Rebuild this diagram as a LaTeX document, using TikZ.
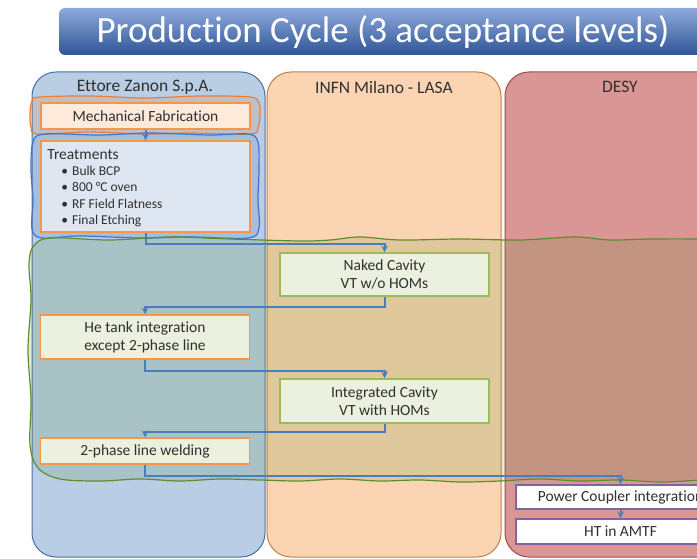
\documentclass[tikz,border=0pt]{standalone}
\usepackage{fontspec}
\setmainfont{Carlito}[Ligatures=NoCommon]
\usetikzlibrary{arrows}

\definecolor{txt}{HTML}{303030}
\definecolor{bantop}{HTML}{8EAADC}
\definecolor{banbot}{HTML}{2F5597}
\definecolor{zanonfill}{HTML}{B9CDE5}
\definecolor{zanonline}{HTML}{4A6FA5}
\definecolor{lasafill}{HTML}{FBD4B4}
\definecolor{lasaline}{HTML}{C47F3E}
\definecolor{desyfill}{HTML}{D99694}
\definecolor{desyline}{HTML}{A5484A}
\definecolor{orangeline}{HTML}{F79646}
\definecolor{orangefill}{HTML}{FDEADA}
\definecolor{treatfill}{HTML}{DEE6F1}
\definecolor{greenline}{HTML}{9BBB59}
\definecolor{greenfill}{HTML}{EBF1DE}
\definecolor{purpleline}{HTML}{8064A2}
\definecolor{connblue}{HTML}{4A7EBB}
\definecolor{waveorange}{HTML}{ED7D31}
\definecolor{waveblue}{HTML}{4472C4}
\definecolor{wavegreen}{HTML}{5B8F2E}

\begin{document}
\begin{tikzpicture}[x=1pt,y=-1pt,>=stealth,
    lane/.style={rounded corners=24pt,line width=1pt},
    lanetitle/.style={font=\fontsize{17.5}{20}\selectfont,text=txt},
    box/.style={draw,line width=1.5pt,minimum width=209pt,inner sep=0pt,align=center,
      font=\fontsize{15.5}{18}\selectfont,text=txt},
    conn/.style={->,line width=2pt,draw=connblue},
    wave/.style={line width=1.2pt,fill opacity=0.17,smooth cycle,tension=0.55}]
  \clip (0,0) rectangle (697,559);
  % タイトル
  \shade[rounded corners=6pt,top color=bantop,bottom color=banbot] (59,8) rectangle (730,55);
  \node[text=white,font=\fontsize{37}{40}\selectfont] (title) at (383,32) {Production Cycle (3 acceptance levels)};

  % レーン
  \draw[lane,fill=zanonfill,draw=zanonline] (32,72) rectangle (265,557);
  \draw[lane,fill=lasafill,draw=lasaline] (267,72) rectangle (501,557);
  \draw[lane,fill=desyfill,draw=desyline] (505,72) rectangle (740,557);
  \node[lanetitle] (zanon) at (145,87) {Ettore Zanon S.p.A.};
  \node[lanetitle] (lasa) at (384,87) {INFN Milano - LASA};
  \node[lanetitle] (desy) at (620,87) {DESY};

  % 受入レベル
  \draw[wave,draw=waveorange,fill=waveorange] plot coordinates {(40,97) (90,96) (145,98) (200,96) (250,97) (259,103) (260,115) (258,128) (250,134) (190,133) (145,134) (90,132) (38,134) (31,127) (30,114) (32,101)};
  \draw[wave,draw=waveblue,fill=waveblue] plot coordinates {(45,134) (100,135) (150,133) (210,135) (248,134) (258,142) (259,170) (258,200) (259,228) (248,238) (190,237) (140,238) (80,236) (42,238) (32,229) (33,200) (31,170) (33,142)};
  \draw[wave,draw=wavegreen,fill=wavegreen] plot coordinates {(50,238) (110,240) (170,237) (230,239) (300,241) (330,240) (360,237) (400,240) (460,239) (520,240) (575,237) (610,240) (650,239) (700,239) (720,240) (722,478) (700,480) (660,482) (620,480) (580,481) (540,479) (500,481) (460,482) (420,480) (380,481) (340,479) (300,481) (260,480) (220,479) (180,481) (140,479) (100,481) (60,479) (38,468) (30,445) (31,400) (28,350) (31,300) (29,265) (33,247)};

  % 工程
  \node[box,draw=orangeline,fill=orangefill,minimum height=26pt] (mech) at (145.5,116) {Mechanical Fabrication};
  \node[box,draw=orangeline,fill=treatfill,minimum height=91pt] (treat) at (145.5,186.5) {};
  \node[anchor=north west,align=left,inner sep=0pt,text=txt,font=\fontsize{13.5}{16.3}\selectfont]
    (treattext) at ([xshift=7pt,yshift=-9pt]treat.north west)
    {{\fontsize{15.5}{16.3}\selectfont Treatments}\\
     \hspace*{14pt}\textbullet\hspace{4pt}Bulk BCP\\
     \hspace*{14pt}\textbullet\hspace{4pt}800 °C oven\\
     \hspace*{14pt}\textbullet\hspace{4pt}RF Field Flatness\\
     \hspace*{14pt}\textbullet\hspace{4pt}Final Etching};
  \node[box,draw=greenline,fill=greenfill,minimum height=43pt] (naked) at (384.5,274.5) {Naked Cavity\\VT w/o HOMs};
  \node[box,draw=orangeline,fill=greenfill,minimum height=44pt] (hetank) at (145,337) {He tank integration\\except 2-phase line};
  \node[box,draw=greenline,fill=greenfill,minimum height=44pt] (integ) at (384.5,401) {Integrated Cavity\\VT with HOMs};
  \node[box,draw=orangeline,fill=greenfill,minimum height=26pt] (weld) at (145,451) {2-phase line welding};
  \node[box,draw=purpleline,fill=white,minimum height=24pt] (coupler) at (620.5,497) {Power Coupler integration};
  \node[box,draw=purpleline,fill=white,minimum height=25pt] (amtf) at (620.5,531.5) {HT in AMTF};

  % 矢印
  \draw[conn] (mech) -- (treat);
  \draw[conn] (treat.south) -- ++(0,11) -| (naked.north);
  \draw[conn] (naked.south) -- ++(0,10) -| (hetank.north);
  \draw[conn] (hetank.south) -- ++(0,11) -| (integ.north);
  \draw[conn] (integ.south) -- ++(0,8) -| (weld.north);
  \draw[conn] (weld.south) -- ++(0,11) -| (coupler.north);
  \draw[conn] (coupler) -- (amtf);
\end{tikzpicture}
\end{document}
